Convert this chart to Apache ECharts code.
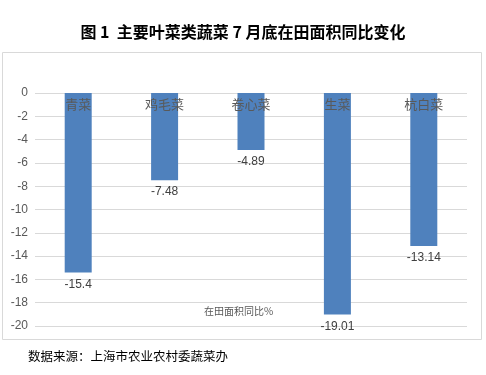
<!DOCTYPE html>
<html><head><meta charset="utf-8">
<script src="https://cdn.jsdelivr.net/npm/echarts@6/dist/echarts.min.js"></script>
<style>html,body{margin:0;padding:0;background:#fff}#c{width:486px;height:375px}</style>
</head><body><div id="c"></div>
<script>
var categories = ['青菜', '鸡毛菜', '卷心菜', '生菜', '杭白菜'];
var values = [-15.4, -7.48, -4.89, -19.01, -13.14];
var seriesName = '在田面积同比%';
var chart = echarts.init(document.getElementById('c'));
chart.setOption({
  animation: false,
  title: {
    text: '图 1  主要叶菜类蔬菜 7 月底在田面积同比变化',
    left: 'center', top: 19,
    textStyle: {fontFamily: 'Noto Sans CJK SC', fontWeight: 'bold', fontSize: 16, color: '#000'}
  },
  graphic: [
    {type: 'rect', shape: {x: 2.5, y: 52.5, width: 479, height: 287}, style: {fill: 'none', stroke: '#d9d9d9', lineWidth: 1}, z: -1},
    {type: 'text', left: 204, top: 306, style: {text: seriesName, font: '10px "Noto Sans CJK SC"', fill: '#595959'}},
    {type: 'text', left: 28, top: 350, style: {text: '数据来源：上海市农业农村委蔬菜办', font: '12.5px "Noto Sans CJK SC"', fill: '#000'}}
  ],
  grid: {left: 35, right: 19, top: 93, bottom: 49, containLabel: false},
  xAxis: {
    type: 'category', data: categories, position: 'top', z: 10,
    axisLine: {show: false}, axisTick: {show: false},
    axisLabel: {inside: true, color: '#595959', fontSize: 13, fontFamily: 'Noto Sans CJK SC', margin: 5}
  },
  yAxis: {
    type: 'value', min: -20, max: 0, interval: 2,
    axisLine: {show: false}, axisTick: {show: false},
    axisLabel: {color: '#595959', fontSize: 12, fontFamily: 'Liberation Sans', margin: 7},
    splitLine: {lineStyle: {color: '#d9d9d9'}}
  },
  series: [{
    name: seriesName, type: 'bar', data: values, barWidth: 27,
    itemStyle: {color: '#4f81bd'},
    label: {show: true, position: 'bottom', distance: 6, color: '#404040', fontSize: 12, fontFamily: 'Liberation Sans'}
  }]
});
</script></body></html>
